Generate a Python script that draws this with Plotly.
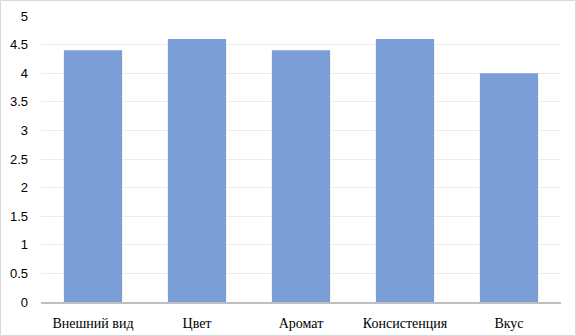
import plotly.graph_objects as go

categories = ["Внешний вид", "Цвет", "Аромат", "Консистенция", "Вкус"]
values = [4.4, 4.6, 4.4, 4.6, 4.0]
y_ticks = [0, 0.5, 1, 1.5, 2, 2.5, 3, 3.5, 4, 4.5, 5]
y_tick_labels = ["0", "0.5", "1", "1.5", "2", "2.5", "3", "3.5", "4", "4.5", "5"]

W, H = 576, 336
ml, mr, mt, mb = 41, 15, 16, 34
pw, ph = W - ml - mr, H - mt - mb

fig = go.Figure(go.Bar(x=categories, y=values, marker_color="#7b9ed6",
                       marker_line_width=0, width=0.56))
fig.update_layout(
    width=W, height=H,
    margin=dict(l=ml, r=mr, t=mt, b=mb, autoexpand=False),
    paper_bgcolor="white", plot_bgcolor="white",
    showlegend=False, bargap=0.44,
    xaxis=dict(showline=True, linecolor="#bfbfbf", linewidth=2, ticks="",
               automargin=False, ticklabelstandoff=7,
               tickfont=dict(family="Liberation Serif, DejaVu Serif, serif", size=14, color="black"),
               showgrid=False),
    yaxis=dict(range=[0, 5], tickvals=y_ticks, ticktext=y_tick_labels,
               automargin=False,
               showgrid=True, gridcolor="#ececec", gridwidth=1, zeroline=False,
               showline=False, ticks="", ticklabelstandoff=12,
               tickfont=dict(family="Liberation Sans", size=13, color="black")),
    shapes=[dict(type="rect", xref="paper", yref="paper",
                 x0=-(ml - 0.5) / pw, x1=1 + (mr - 0.5) / pw,
                 y0=-(mb - 0.5) / ph, y1=1 + (mt - 0.5) / ph,
                 line=dict(color="#d9d9d9", width=1), layer="below")],
)
fig.write_html("out.html", config={"displayModeBar": False},
               post_script="document.body.style.margin='0';")
